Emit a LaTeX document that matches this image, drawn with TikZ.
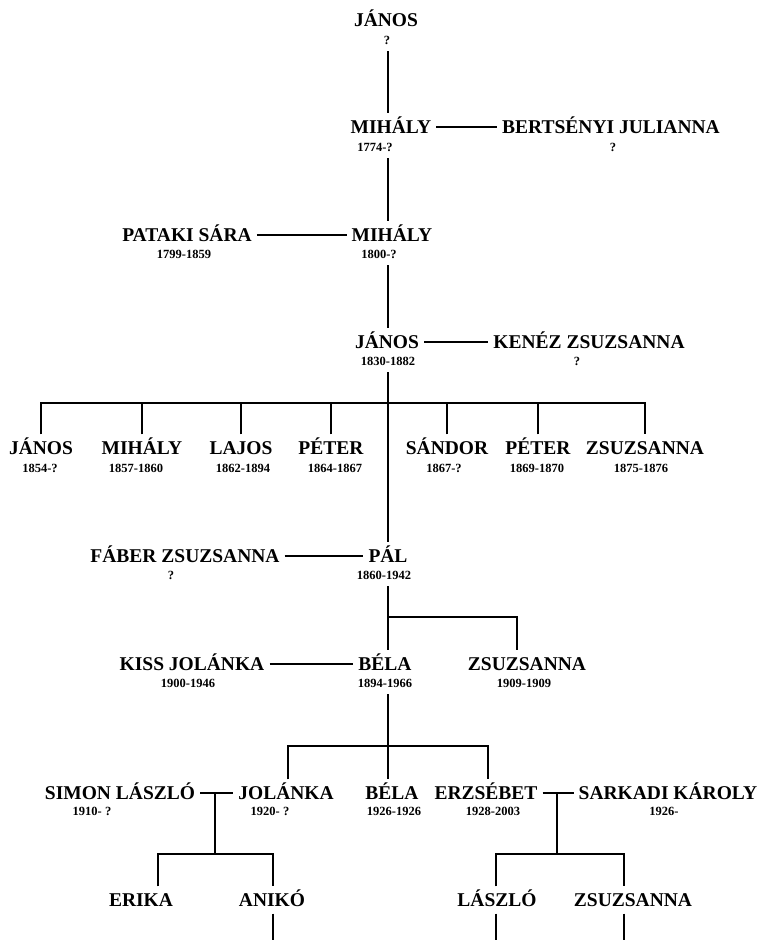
\documentclass[tikz,border=0pt]{standalone}
\usepackage{fontspec}
\setmainfont{Liberation Serif}
\usetikzlibrary{calc}

\begin{document}
\begin{tikzpicture}[
  x=1pt, y=-1pt,
  person/.style={font=\fontsize{19.5}{22}\selectfont\bfseries,
              text height=13pt, text depth=0pt,
              inner xsep=5pt, inner ysep=7pt},
  years/.style={font=\fontsize{12.5}{14}\selectfont\bfseries,
              text height=8.5pt, text depth=0pt,
              inner xsep=3pt, inner ysep=7pt},
  link/.style={line width=1.1pt, black}
]
\useasboundingbox (0,0) rectangle (764,940);
\coordinate (spine) at (388,0);
\coordinate (bottom) at (0,940);

% generation 1-4
\node[person] (janos1) at (386,20) {JÁNOS};
\node[years]  (janos1y) at (387,40) {?};
\node[person] (mihaly1) at (391,127) {MIHÁLY};
\node[years]  (mihaly1y) at (375,147) {1774-?};
\node[person] (bertsenyi) at (611,127) {BERTSÉNYI JULIANNA};
\node[years]  (bertsenyiy) at (613,147) {?};
\node[person] (pataki) at (187,235) {PATAKI SÁRA};
\node[years]  (patakiy) at (184,254) {1799-1859};
\node[person] (mihaly2) at (392,235) {MIHÁLY};
\node[years]  (mihaly2y) at (379,254) {1800-?};
\node[person] (janos2) at (387,342) {JÁNOS};
\node[years]  (janos2y) at (388,361) {1830-1882};
\node[person] (kenez) at (589,342) {KENÉZ ZSUZSANNA};
\node[years]  (keneZy) at (577,361) {?};

% children of János
\node[person] (kid1) at (41,448) {JÁNOS};
\node[years]  (kid1y) at (40,468) {1854-?};
\node[person] (kid2) at (142,448) {MIHÁLY};
\node[years]  (kid2y) at (136,468) {1857-1860};
\node[person] (kid3) at (241,448) {LAJOS};
\node[years]  (kid3y) at (243,468) {1862-1894};
\node[person] (kid4) at (331,448) {PÉTER};
\node[years]  (kid4y) at (335,468) {1864-1867};
\node[person] (kid5) at (447,448) {SÁNDOR};
\node[years]  (kid5y) at (444,468) {1867-?};
\node[person] (kid6) at (538,448) {PÉTER};
\node[years]  (kid6y) at (537,468) {1869-1870};
\node[person] (kid7) at (645,448) {ZSUZSANNA};
\node[years]  (kid7y) at (641,468) {1875-1876};

% Pál
\node[person] (faber) at (185,556) {FÁBER ZSUZSANNA};
\node[years]  (fabery) at (171,575) {?};
\node[person] (pal) at (388,556) {PÁL};
\node[years]  (paly) at (384,575) {1860-1942};

% Béla
\node[person] (kiss) at (192,664) {KISS JOLÁNKA};
\node[years]  (kissy) at (188,683) {1900-1946};
\node[person] (bela1) at (385,664) {BÉLA};
\node[years]  (bela1y) at (385,683) {1894-1966};
\node[person] (zsuzsa2) at (527,664) {ZSUZSANNA};
\node[years]  (zsuzsa2y) at (524,683) {1909-1909};

% grandchildren
\node[person] (simon) at (120,793) {SIMON LÁSZLÓ};
\node[years]  (simony) at (92,811) {1910- ?};
\node[person] (jolanka) at (286,793) {JOLÁNKA};
\node[years]  (jolankay) at (270,811) {1920- ?};
\node[person] (bela2) at (392,793) {BÉLA};
\node[years]  (bela2y) at (394,811) {1926-1926};
\node[person] (erzsebet) at (486,793) {ERZSÉBET};
\node[years]  (erzsebety) at (493,811) {1928-2003};
\node[person] (sarkadi) at (668,793) {SARKADI KÁROLY};
\node[years]  (sarkadiy) at (664,811) {1926-};

\node[person] (erika) at (141,900) {ERIKA};
\node[person] (aniko) at (272,900) {ANIKÓ};
\node[person] (laszlo) at (497,900) {LÁSZLÓ};
\node[person] (zsuzsa3) at (633,900) {ZSUZSANNA};

% main line
\draw[link] (janos1y.south -| spine) -- (mihaly1.north -| spine);
\draw[link] (mihaly1.east) -- (bertsenyi.west);
\draw[link] (mihaly1y.south -| spine) -- (mihaly2.north -| spine);
\draw[link] (pataki.east) -- (mihaly2.west);
\draw[link] (mihaly2y.south -| spine) -- (janos2.north -| spine);
\draw[link] (janos2.east) -- (kenez.west);
\draw[link] (janos2y.south -| spine) -- (pal.north -| spine);

\coordinate (fam1) at (388,403);
\draw[link] (kid1.north) |- (fam1) -| (kid7.north);
\foreach \k in {kid2,kid3,kid4,kid5,kid6}
  \draw[link] (\k.north) -- (\k.north |- fam1);

\draw[link] (faber.east) -- (pal.west);
\draw[link] (paly.south -| spine) -- (bela1.north -| spine);
\coordinate (fam2) at (517,617);
\draw[link] (fam2 -| spine) -- (fam2) -- (fam2 |- zsuzsa2.north);

\draw[link] (kiss.east) -- (bela1.west);
\draw[link] (bela1y.south -| spine) -- (bela2.north -| spine);
\coordinate (fam3l) at (288,746);
\coordinate (fam3r) at (488,746);
\draw[link] (fam3l |- jolanka.north) -- (fam3l) -- (fam3r) -- (fam3r |- erzsebet.north);

% Jolánka and Erzsébet
\draw[link] (simon.east) -- (jolanka.west);
\coordinate (fam4) at (215,854);
\coordinate (fam4l) at (158,854);
\coordinate (fam4r) at (273,854);
\draw[link] (fam4 |- simon.east) -- (fam4);
\draw[link] (fam4l |- erika.north) -- (fam4l) -- (fam4r) -- (fam4r |- aniko.north);
\draw[link] (fam4r |- aniko.south) -- (fam4r |- bottom);

\draw[link] (erzsebet.east) -- (sarkadi.west);
\coordinate (fam5) at (557,854);
\coordinate (fam5l) at (496,854);
\coordinate (fam5r) at (624,854);
\draw[link] (fam5 |- erzsebet.east) -- (fam5);
\draw[link] (fam5l |- laszlo.north) -- (fam5l) -- (fam5r) -- (fam5r |- zsuzsa3.north);
\draw[link] (fam5l |- laszlo.south) -- (fam5l |- bottom);
\draw[link] (fam5r |- zsuzsa3.south) -- (fam5r |- bottom);
\end{tikzpicture}
\end{document}
